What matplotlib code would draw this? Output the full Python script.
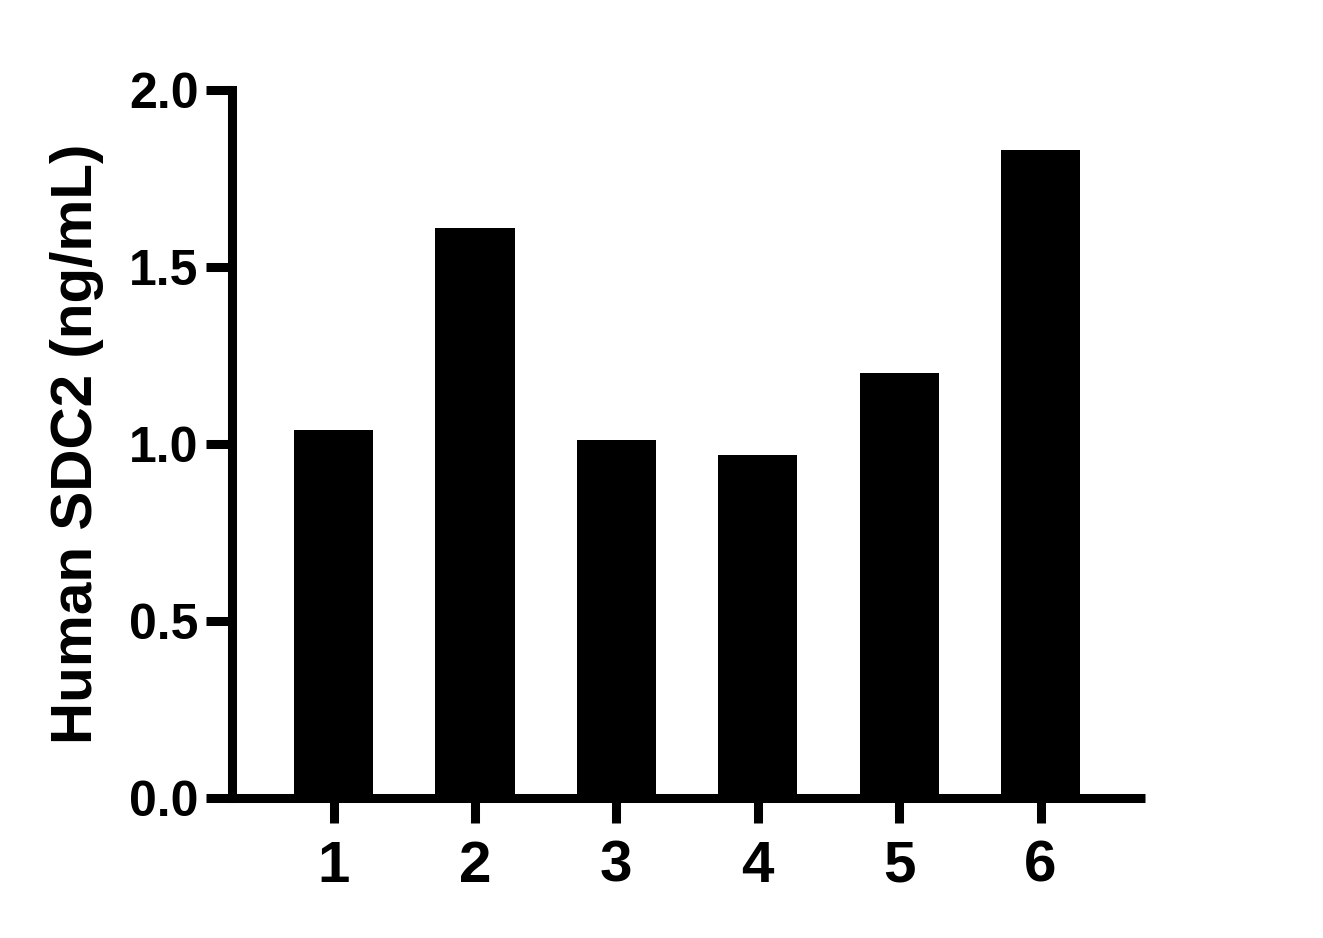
import matplotlib
matplotlib.use("Agg")
import matplotlib.pyplot as plt

groups = ["1", "2", "3", "4", "5", "6"]
values = [1.04, 1.61, 1.01, 0.97, 1.20, 1.83]
yticks = [0.0, 0.5, 1.0, 1.5, 2.0]

plt.rcParams['font.family'] = ['Liberation Sans', 'DejaVu Sans']
plt.rcParams['font.weight'] = 'bold'

fig = plt.figure(figsize=(13.23, 9.38), dpi=100)
ax = fig.add_axes([232 / 1323, 1 - 798 / 938, (1145 - 232) / 1323, (798 - 90) / 938])

x = list(range(1, len(groups) + 1))
ax.bar(x, values, width=0.56, color='black', edgecolor='none')

ax.set_xlim(0.282, 6.739)
ax.set_ylim(0, 2.0)
ax.set_xticks(x)
ax.set_xticklabels(groups, fontsize=42, fontweight='bold')
ax.set_yticks(yticks)
ax.set_yticklabels([f"{v:.1f}" for v in yticks], fontsize=36, fontweight='bold')

for s in ['top', 'right']:
    ax.spines[s].set_visible(False)
for s in ['left', 'bottom']:
    ax.spines[s].set_linewidth(6.5)
ax.spines['left'].set_capstyle('projecting')
ax.spines['bottom'].set_capstyle('butt')

ax.tick_params(axis='y', length=19, width=6.5, pad=5)
ax.tick_params(axis='x', length=18, width=6.5, pad=12)

ax.set_ylabel("Human SDC2 (ng/mL)", fontsize=42, fontweight='bold', labelpad=18)

fig.savefig("out.png", dpi=100)
